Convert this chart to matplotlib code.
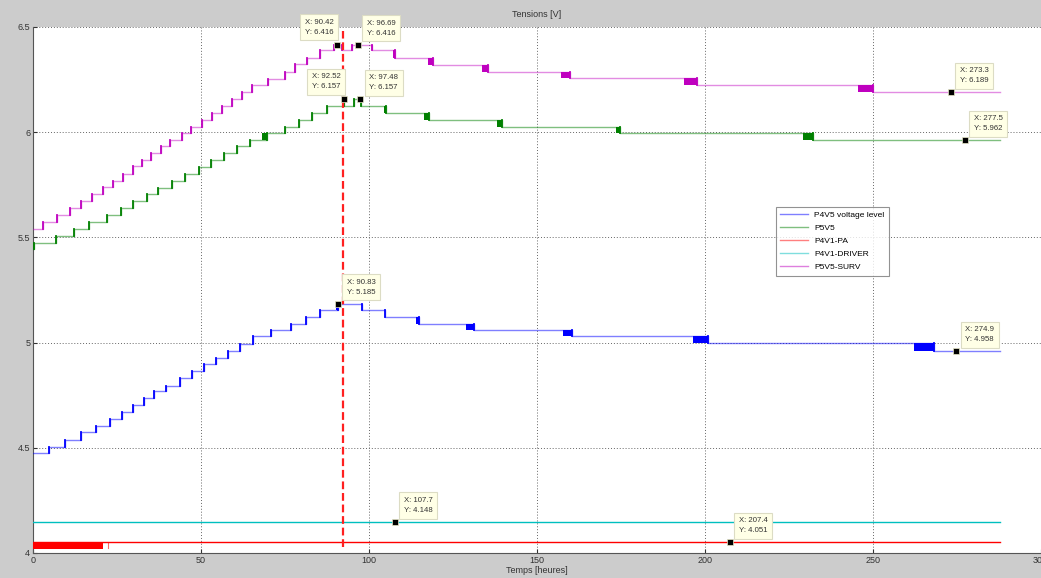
import matplotlib.pyplot as plt
from matplotlib.lines import Line2D

plt.rcParams['font.family'] = ['Liberation Sans', 'DejaVu Sans']

t_end = 288.0
t_event = 92.4

# P4V5 voltage level : instants de changement (h) et niveaux (V)
p4v5_t = [0, 4.9, 9.5, 14.2, 18.7, 22.9, 26.6, 29.9, 33.2, 36.1, 39.5, 43.8, 47.3,
          50.9, 54.5, 58.2, 61.7, 65.6, 70.8, 76.9, 81.2, 85.5, 90.8, 97.9, 104.7,
          115.0, 131.3, 160.6, 201.1, 268.4]
p4v5_v = [4.475, 4.505, 4.538, 4.573, 4.605, 4.636, 4.671, 4.703, 4.736, 4.769, 4.796,
          4.831, 4.863, 4.896, 4.929, 4.961, 4.994, 5.029, 5.061, 5.088, 5.121, 5.153,
          5.185, 5.153, 5.120, 5.089, 5.060, 5.029, 4.997, 4.958]
p4v5_blk = [(90.8, 0.6), (115.0, 1.0), (131.3, 2.3), (160.6, 2.9), (201.1, 4.5), (268.4, 6.0)]

# P5V5
p5v5_t = [0, 0.4, 6.9, 12.2, 16.8, 21.9, 26.1, 29.9, 33.9, 37.3, 41.5, 45.3, 49.5, 53.0,
          57.0, 60.7, 64.6, 69.7, 75.1, 79.2, 83.2, 87.5, 92.4, 92.7, 95.6, 97.6,
          105.2, 117.8, 139.6, 174.9, 232.2]
p5v5_v = [5.446, 5.473, 5.505, 5.538, 5.571, 5.605, 5.639, 5.671, 5.704, 5.733, 5.768,
          5.800, 5.835, 5.868, 5.900, 5.933, 5.963, 5.995, 6.026, 6.059, 6.091, 6.124,
          6.157, 6.124, 6.157, 6.124, 6.089, 6.057, 6.024, 5.995, 5.962]
p5v5_blk = [(69.7, 1.5), (105.2, 0.7), (117.8, 1.5), (139.6, 1.5), (174.9, 1.2), (232.2, 3.0)]

# P4V1-PA et P4V1-DRIVER
pa_t = [0]
pa_v = [4.051]
pa_low = 4.018
pa_blk = (0.0, 20.7)
drv_t = [0]
drv_v = [4.148]

# P5V5-SURV
surv_t = [0, 3.1, 7.2, 11.0, 14.3, 17.5, 20.8, 23.9, 26.9, 29.7, 32.6, 35.2, 38.1, 40.8,
          44.3, 47.1, 50.3, 53.4, 56.2, 59.4, 62.2, 65.3, 70.1, 74.9, 78.0, 81.5, 85.5,
          89.7, 92.0, 94.9, 100.9, 107.8, 119.2, 135.6, 160.0, 197.8, 250.2]
surv_v = [5.538, 5.573, 5.605, 5.639, 5.671, 5.704, 5.738, 5.767, 5.802, 5.837, 5.868,
          5.900, 5.933, 5.963, 5.995, 6.026, 6.059, 6.091, 6.126, 6.160, 6.192, 6.224,
          6.255, 6.287, 6.323, 6.355, 6.390, 6.416, 6.390, 6.416, 6.390, 6.354, 6.320,
          6.288, 6.257, 6.224, 6.189]
surv_blk = [(107.8, 0.5), (119.2, 1.7), (135.6, 2.0), (160.0, 2.8), (197.8, 4.0), (250.2, 4.5)]

# curseurs de données
tips_x = ['90.42', '96.69', '92.52', '97.48', '90.83', '273.3', '277.5', '274.9', '107.7', '207.4']
tips_y = ['6.416', '6.416', '6.157', '6.157', '5.185', '6.189', '5.962', '4.958', '4.148', '4.051']
tips_left = [True, False, True, False, False, False, False, False, False, False]

c_blue = (0, 0, 1)
c_green = (0, 0.5, 0)
c_red = (1, 0, 0)
c_cyan = (0, 0.75, 0.75)
c_mag = (0.75, 0, 0.75)


def draw_series(ax, t, v, blocks, color, alpha):
    x = list(t) + [t_end]
    y = list(v) + [v[-1]]
    ax.step(x, y, where='post', color=color, lw=1.0, alpha=alpha, zorder=3)
    for i in range(1, len(t)):
        ax.plot([t[i], t[i]], [v[i - 1], v[i]], color=color, lw=1.3, zorder=3)
    for tb, w in blocks:
        i = t.index(tb)
        ax.fill_between([tb - w, tb], v[i - 1], v[i], color=color, lw=0, zorder=3)


fig = plt.figure(figsize=(10.41, 5.78), dpi=100, facecolor='#cccccc')
ax = fig.add_axes([33 / 1041, 25 / 578, 1007.5 / 1041, 526 / 578])

draw_series(ax, p4v5_t, p4v5_v, p4v5_blk, c_blue, 0.5)
draw_series(ax, p5v5_t, p5v5_v, p5v5_blk, c_green, 0.5)
ax.plot([pa_t[0], t_end], [pa_v[0], pa_v[0]], color=c_red, lw=1.0, zorder=3)
ax.fill_between(pa_blk, pa_low, pa_v[0], color=c_red, lw=0, zorder=3)
ax.plot([22.4, 22.4], [pa_low + 0.005, pa_v[0] - 0.005], color=c_red, lw=0.8, alpha=0.6)
ax.plot([drv_t[0], t_end], [drv_v[0], drv_v[0]], color=c_cyan, lw=1.0, zorder=3)
draw_series(ax, surv_t, surv_v, surv_blk, c_mag, 0.45)

# instant de l'événement
ax.plot([t_event, t_event], [4.03, 6.48], color='#ff2020', lw=1.6,
        linestyle=(0, (3.5, 1.7)), zorder=4)

for xs, ys, left in zip(tips_x, tips_y, tips_left):
    x, y = float(xs), float(ys)
    ax.plot(x, y, 's', color='k', ms=4.2, mec='#e8e8c8', mew=0.5, zorder=6)
    off = (-3, 9) if left else (9, 8)
    ax.annotate('X: %s\nY: %s' % (xs, ys), (x, y), xytext=off, textcoords='offset pixels',
                ha='right' if left else 'left', va='bottom', fontsize=5.6, color='#333333',
                linespacing=1.6, zorder=7,
                bbox=dict(boxstyle='square,pad=0.6', fc='#ffffe6', ec='#dcdcc4', lw=0.8))

ax.set_xlim(0, 300)
ax.set_ylim(4, 6.5)
ax.set_xticks(range(0, 301, 50))
ax.set_yticks([4, 4.5, 5, 5.5, 6, 6.5])
ax.set_yticklabels(['4', '4.5', '5', '5.5', '6', '6.5'])
ax.grid(True, linestyle=(0, (1, 2)), color='#666666', lw=0.7)
ax.set_axisbelow(True)
ax.tick_params(direction='in', length=3, labelsize=6.5, colors='#333333', pad=2)
for side in ('top', 'right'):
    ax.spines[side].set_visible(False)
for side in ('left', 'bottom'):
    ax.spines[side].set_color('#555555')

ax.set_title('Tensions [V]', fontsize=6.5, color='#333333', pad=7)
ax.set_xlabel('Temps [heures]', fontsize=6.5, color='#333333', labelpad=1)

handles = [Line2D([], [], color=c, lw=1.0, alpha=0.5) for c in
           (c_blue, c_green, c_red, c_cyan, c_mag)]
labels = ['P4V5 voltage level', 'P5V5', 'P4V1-PA', 'P4V1-DRIVER', 'P5V5-SURV']
leg = ax.legend(handles, labels, loc='upper left', bbox_to_anchor=(0.737, 0.658),
                fontsize=6, frameon=True, fancybox=False, handlelength=3.3,
                labelspacing=0.62, borderpad=0.55, handletextpad=0.8, borderaxespad=0)
leg.get_frame().set_edgecolor('#777777')
leg.get_frame().set_linewidth(0.8)

fig.savefig('out.png', dpi=100, facecolor=fig.get_facecolor())
